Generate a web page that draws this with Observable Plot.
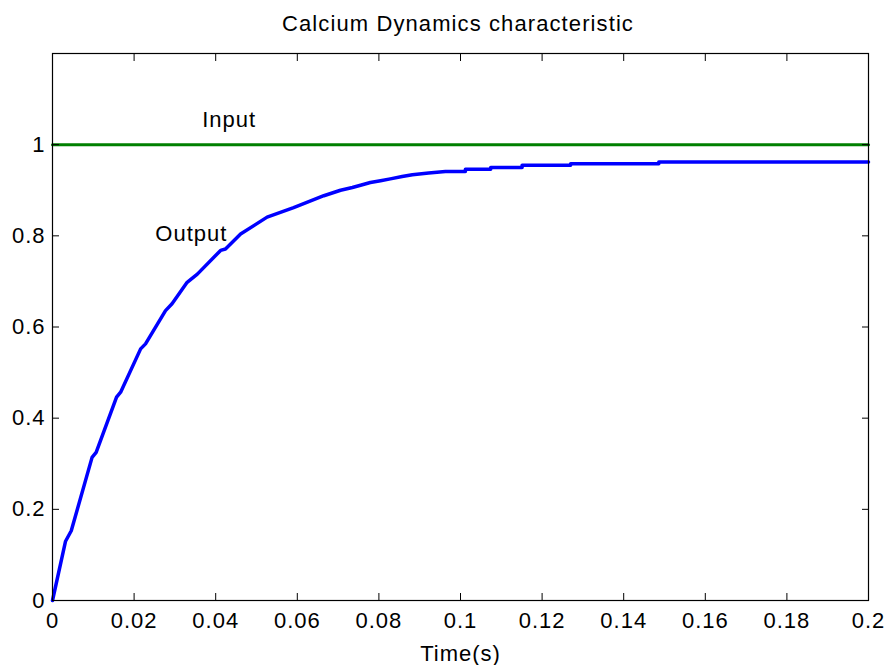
<!DOCTYPE html>
<html>
<head>
<meta charset="utf-8">
<script src="https://cdn.jsdelivr.net/npm/d3@7"></script>
<script src="https://cdn.jsdelivr.net/npm/@observablehq/plot@0.6"></script>
<style>
  html, body { margin: 0; padding: 0; background: #fff; }
  #title { width: 887px; height: 50px; position: relative; font-family: "Liberation Sans", Arial, sans-serif; font-size: 22px; letter-spacing: 1.1px; color: #000; }
  #title span { position: absolute; left: 0; width: 916px; text-align: center; top: 11px; line-height: 26px; }
  svg { display: block; }
  svg text { letter-spacing: 1px; }
</style>
</head>
<body>
<div id="title"><span>Calcium Dynamics characteristic</span></div>
<div id="chart"></div>
<script>
// Output response
const outT = [0, 0.0032, 0.0046, 0.0097, 0.0107, 0.0157, 0.0167, 0.0216, 0.0228, 0.0277, 0.0293, 0.033, 0.0355, 0.0412, 0.0424, 0.0461, 0.0526, 0.0591, 0.0665, 0.0706, 0.0735, 0.0755, 0.0779, 0.0804, 0.0828, 0.0857, 0.0882, 0.0922, 0.0963, 0.1012, 0.1012, 0.1074, 0.1074, 0.1151, 0.1151, 0.127, 0.127, 0.1486, 0.1486, 0.2];
const outY = [0, 0.13, 0.153, 0.314, 0.325, 0.446, 0.457, 0.552, 0.563, 0.636, 0.651, 0.698, 0.716, 0.768, 0.771, 0.804, 0.841, 0.862, 0.888, 0.900, 0.906, 0.911, 0.917, 0.921, 0.925, 0.930, 0.934, 0.938, 0.941, 0.941, 0.946, 0.946, 0.950, 0.950, 0.955, 0.955, 0.958, 0.958, 0.962, 0.962];
// Input step
const inT = [0, 0.2];
const inY = [1, 1];
// Ticks
const xTicks = [0, 0.02, 0.04, 0.06, 0.08, 0.1, 0.12, 0.14, 0.16, 0.18, 0.2];
const xTickLabels = ["0", "0.02", "0.04", "0.06", "0.08", "0.1", "0.12", "0.14", "0.16", "0.18", "0.2"];
const yTicks = [0, 0.2, 0.4, 0.6, 0.8, 1];
const yTickLabels = ["0", "0.2", "0.4", "0.6", "0.8", "1"];
// Annotations
const labelText = ["Input", "Output"];
const labelX = [0.0367, 0.0252];
const labelY = [1.055, 0.804];

const outData = outT.map((t, i) => ({t, y: outY[i]}));
const inData = inT.map((t, i) => ({t, y: inY[i]}));
const labels = labelText.map((s, i) => ({s, x: labelX[i], y: labelY[i]}));

const chart = Plot.plot({
  width: 887,
  height: 615,
  marginTop: 3,
  marginBottom: 65,
  marginLeft: 52,
  marginRight: 19,
  style: {fontFamily: "Liberation Sans, Arial, sans-serif", fontSize: "22px", color: "#000", background: "#fff"},
  x: {domain: [0, 0.2]},
  y: {domain: [0, 1.2]},
  marks: [
    Plot.line(inData, {x: "t", y: "y", stroke: "#008000", strokeWidth: 3}),
    Plot.line(outData, {x: "t", y: "y", stroke: "#0000ff", strokeWidth: 3.5}),
    Plot.text(labels, {x: "x", y: "y", text: "s", textAnchor: "start", fontSize: 22, fill: "#000"}),
    // inward ticks on all four sides
    Plot.axisX({anchor: "bottom", ticks: xTicks, tickSize: -7, tickFormat: () => "", label: null, stroke: "#000"}),
    Plot.axisX({anchor: "top", ticks: xTicks, tickSize: -7, tickFormat: () => "", label: null, stroke: "#000"}),
    Plot.axisY({anchor: "left", ticks: yTicks, tickSize: -7, tickFormat: () => "", label: null, stroke: "#000"}),
    Plot.axisY({anchor: "right", ticks: yTicks, tickSize: -7, tickFormat: () => "", label: null, stroke: "#000"}),
    // labels
    Plot.axisX({anchor: "bottom", ticks: xTicks, tickSize: 0, tickPadding: 12, tickFormat: (d, i) => xTickLabels[i], label: "Time(s)", labelAnchor: "center", labelArrow: "none", labelOffset: 60, fontSize: 22, fill: "#000"}),
    Plot.axisY({anchor: "left", ticks: yTicks, tickSize: 0, tickPadding: 7, tickFormat: (d, i) => yTickLabels[i], label: null, fontSize: 22, fill: "#000"}),
    Plot.frame({stroke: "#000", strokeWidth: 1.2})
  ]
});
document.getElementById("chart").appendChild(chart);
</script>
</body>
</html>
